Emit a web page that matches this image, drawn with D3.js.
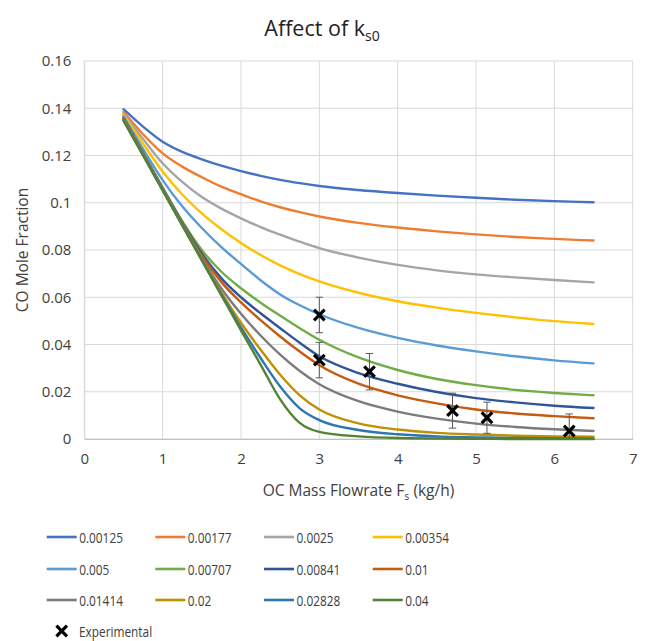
<!DOCTYPE html>
<html>
<head>
<meta charset="utf-8">
<script src="https://cdn.jsdelivr.net/npm/d3@7"></script>
<style>
  html, body { margin: 0; padding: 0; background: #fff; }
  svg { display: block; font-family: "Open Sans", "Noto Sans", sans-serif; }
</style>
</head>
<body>
<svg id="chart" width="648" height="641"></svg>
<script>
// Model sweep: CO mole fraction vs oxygen-carrier mass flowrate for several k_s0 values
const flowrates = [0.5, 0.75, 1, 1.25, 1.5, 1.75, 2, 2.25, 2.5, 2.75, 3, 3.5, 4, 4.5, 5, 5.5, 6, 6.5];

const seriesNames = ["0.00125", "0.00177", "0.0025", "0.00354", "0.005", "0.00707",
                     "0.00841", "0.01", "0.01414", "0.02", "0.02828", "0.04"];

const ks_00125 = [0.1396, 0.1322, 0.1258, 0.1215, 0.1184, 0.1157, 0.1134, 0.1114, 0.1097, 0.1083, 0.1071, 0.1054, 0.1041, 0.1030, 0.1021, 0.1013, 0.1007, 0.1002];
const ks_00177 = [0.1385, 0.1290, 0.1209, 0.1153, 0.1108, 0.1068, 0.1036, 0.1006, 0.0981, 0.0960, 0.0942, 0.0915, 0.0895, 0.0879, 0.0866, 0.0855, 0.0847, 0.0840];
const ks_0025  = [0.1378, 0.1270, 0.1167, 0.1088, 0.1024, 0.0975, 0.0934, 0.0897, 0.0865, 0.0835, 0.0808, 0.0768, 0.0737, 0.0714, 0.0697, 0.0684, 0.0673, 0.0663];
const ks_00354 = [0.1372, 0.1250, 0.1132, 0.1035, 0.0955, 0.0888, 0.0830, 0.0779, 0.0735, 0.0698, 0.0667, 0.0619, 0.0583, 0.0556, 0.0534, 0.0515, 0.0499, 0.0487];
const ks_005   = [0.1366, 0.1228, 0.1096, 0.0985, 0.0893, 0.0812, 0.0741, 0.0672, 0.0612, 0.0566, 0.0528, 0.0470, 0.0428, 0.0396, 0.0371, 0.0350, 0.0333, 0.0320];
const ks_00707 = [0.1360, 0.1212, 0.1064, 0.0922, 0.0800, 0.0708, 0.0638, 0.0577, 0.0522, 0.0469, 0.0420, 0.0345, 0.0292, 0.0254, 0.0228, 0.0208, 0.0195, 0.0185];
const ks_00841 = [0.1358, 0.1210, 0.1062, 0.0917, 0.0785, 0.0680, 0.0600, 0.0532, 0.0469, 0.0407, 0.0350, 0.0279, 0.0234, 0.0199, 0.0173, 0.0155, 0.0141, 0.0131];
const ks_001   = [0.1356, 0.1208, 0.1060, 0.0914, 0.0776, 0.0664, 0.0578, 0.0503, 0.0434, 0.0370, 0.0312, 0.0234, 0.0185, 0.0151, 0.0125, 0.0108, 0.0097, 0.0088];
const ks_01414 = [0.1354, 0.1206, 0.1058, 0.0911, 0.0767, 0.0637, 0.0530, 0.0438, 0.0357, 0.0288, 0.0232, 0.0160, 0.0116, 0.0086, 0.0065, 0.0051, 0.0041, 0.0034];
const ks_002   = [0.1352, 0.1204, 0.1056, 0.0908, 0.0761, 0.0620, 0.0492, 0.0378, 0.0272, 0.0185, 0.0125, 0.0066, 0.0040, 0.0026, 0.0019, 0.0014, 0.0011, 0.0010];
const ks_02828 = [0.1350, 0.1202, 0.1054, 0.0906, 0.0758, 0.0612, 0.0472, 0.0343, 0.0222, 0.0130, 0.0080, 0.0038, 0.0020, 0.0011, 0.0007, 0.0004, 0.0003, 0.0002];
const ks_004   = [0.1348, 0.1200, 0.1052, 0.0904, 0.0756, 0.0608, 0.0460, 0.0315, 0.0168, 0.0068, 0.0030, 0.0011, 0.0004, 0.0002, 0.0001, 0.0000, 0.0000, 0.0000];

const seriesValues = [ks_00125, ks_00177, ks_0025, ks_00354, ks_005, ks_00707,
                      ks_00841, ks_001, ks_01414, ks_002, ks_02828, ks_004];

const palette = ["#4472C4", "#ED7D31", "#A5A5A5", "#FFC000", "#5B9BD5", "#70AD47",
                 "#2F5597", "#C55A11", "#7B7B7B", "#BF9000", "#2E75B6", "#548235"];

// Measured points with error bars
const expFlow  = [3.0, 3.0, 3.64, 4.70, 5.14, 6.19];
const expCO    = [0.0525, 0.0334, 0.0285, 0.0120, 0.0090, 0.0034];
const expError = [0.0075, 0.0075, 0.0077, 0.0074, 0.0066, 0.0072];

const xTicks = [0, 1, 2, 3, 4, 5, 6, 7];
const yTicks = [0, 0.02, 0.04, 0.06, 0.08, 0.1, 0.12, 0.14, 0.16];

const svg = d3.select("#chart");
svg.append("rect").attr("width", 648).attr("height", 641).attr("fill", "#fff");

const x = d3.scaleLinear().domain([0, 7]).range([84.3, 632.7]);
const y = d3.scaleLinear().domain([0, 0.16]).range([439, 61]);

const textColor = "#404040";
const gridColor = "#d9d9d9";

// Gridlines
const grid = svg.append("g");
grid.selectAll("line.h").data(yTicks).join("line")
  .attr("x1", x(0)).attr("x2", x(7))
  .attr("y1", d => y(d)).attr("y2", d => y(d))
  .attr("stroke", gridColor).attr("stroke-width", 1);
grid.selectAll("line.v").data(xTicks).join("line")
  .attr("x1", d => x(d)).attr("x2", d => x(d))
  .attr("y1", y(0)).attr("y2", y(0.16))
  .attr("stroke", gridColor).attr("stroke-width", 1);

// Axes (labels only, Excel-style)
const fmtY = d => d === 0 ? "0" : String(+d.toFixed(2));
const yAxis = d3.axisLeft(y).tickValues(yTicks).tickFormat(fmtY).tickSize(0).tickPadding(13);
const gy = svg.append("g").attr("transform", `translate(${x(0)},0)`).call(yAxis);
gy.select(".domain").attr("stroke", gridColor);
gy.selectAll("text").attr("font-size", 15).attr("fill", textColor).attr("font-family", "Open Sans");

const xAxis = d3.axisBottom(x).tickValues(xTicks).tickFormat(d3.format("d")).tickSize(0).tickPadding(14);
const gx = svg.append("g").attr("transform", `translate(0,${y(0)})`).call(xAxis);
gx.select(".domain").attr("stroke", "#bfbfbf");
gx.selectAll("text").attr("font-size", 15).attr("fill", textColor).attr("font-family", "Open Sans");

// Model curves
const line = d3.line()
  .x((d, i) => x(flowrates[i]))
  .y(d => y(d))
  .curve(d3.curveMonotoneX);

svg.append("g").selectAll("path").data(seriesValues).join("path")
  .attr("d", d => line(d))
  .attr("fill", "none")
  .attr("stroke", (d, i) => palette[i])
  .attr("stroke-width", 2.4)
  .attr("stroke-linejoin", "round")
  .attr("stroke-linecap", "round");

// Error bars
const eb = svg.append("g").attr("stroke", "#595959").attr("stroke-width", 1);
expFlow.forEach((fx, i) => {
  const lo = Math.max(0, expCO[i] - expError[i]);
  const hi = expCO[i] + expError[i];
  const cx = x(fx);
  eb.append("line").attr("x1", cx).attr("x2", cx).attr("y1", y(lo)).attr("y2", y(hi));
  eb.append("line").attr("x1", cx - 3.7).attr("x2", cx + 3.7).attr("y1", y(hi)).attr("y2", y(hi));
  if (expCO[i] - expError[i] > 0) {
    eb.append("line").attr("x1", cx - 3.7).attr("x2", cx + 3.7).attr("y1", y(lo)).attr("y2", y(lo));
  }
});

// Experimental markers
const xMark = d3.symbol().type(d3.symbolX).size(75);
svg.append("g").selectAll("path").data(expCO).join("path")
  .attr("d", xMark)
  .attr("transform", (d, i) => `translate(${x(expFlow[i])},${y(d)})`)
  .attr("fill", "none").attr("stroke", "#000").attr("stroke-width", 3.2);

// Title
const title = svg.append("text").attr("x", 322).attr("y", 36)
  .attr("text-anchor", "middle").attr("font-size", 21.5).attr("fill", "#222");
title.append("tspan").text("Affect of k");
title.append("tspan").attr("font-size", 14).attr("dy", 5).text("s0");

// Axis titles
svg.append("text").attr("transform", `translate(28,${(y(0) + y(0.16)) / 2}) rotate(-90)`)
  .attr("text-anchor", "middle").attr("font-size", 15.5).attr("fill", textColor)
  .text("CO Mole Fraction");

const xt = svg.append("text").attr("x", (x(0) + x(7)) / 2).attr("y", 496)
  .attr("text-anchor", "middle").attr("font-size", 15.5).attr("fill", textColor);
xt.append("tspan").text("OC Mass Flowrate F");
xt.append("tspan").attr("font-size", 10.5).attr("dy", 4).text("s");
xt.append("tspan").attr("dy", -4).text(" (kg/h)");

// Legend
const colX = [46.7, 155.3, 264, 372.7];
const rowY = [537, 569, 600];
const legend = svg.append("g");
seriesNames.forEach((name, i) => {
  const cx = colX[i % 4], cy = rowY[Math.floor(i / 4)];
  legend.append("line").attr("x1", cx).attr("x2", cx + 30).attr("y1", cy).attr("y2", cy)
    .attr("stroke", palette[i]).attr("stroke-width", 2.6);
  legend.append("text").attr("transform", `translate(${cx + 32.5},${cy + 5.5}) scale(0.79,1)`)
    .attr("font-size", 15).attr("fill", textColor).text(name);
});
legend.append("path").attr("d", xMark)
  .attr("transform", `translate(61.7,631)`)
  .attr("fill", "none").attr("stroke", "#000").attr("stroke-width", 3.2);
legend.append("text").attr("transform", `translate(79,636.5) scale(0.79,1)`)
  .attr("font-size", 15).attr("fill", textColor).text("Experimental");
</script>
</body>
</html>
